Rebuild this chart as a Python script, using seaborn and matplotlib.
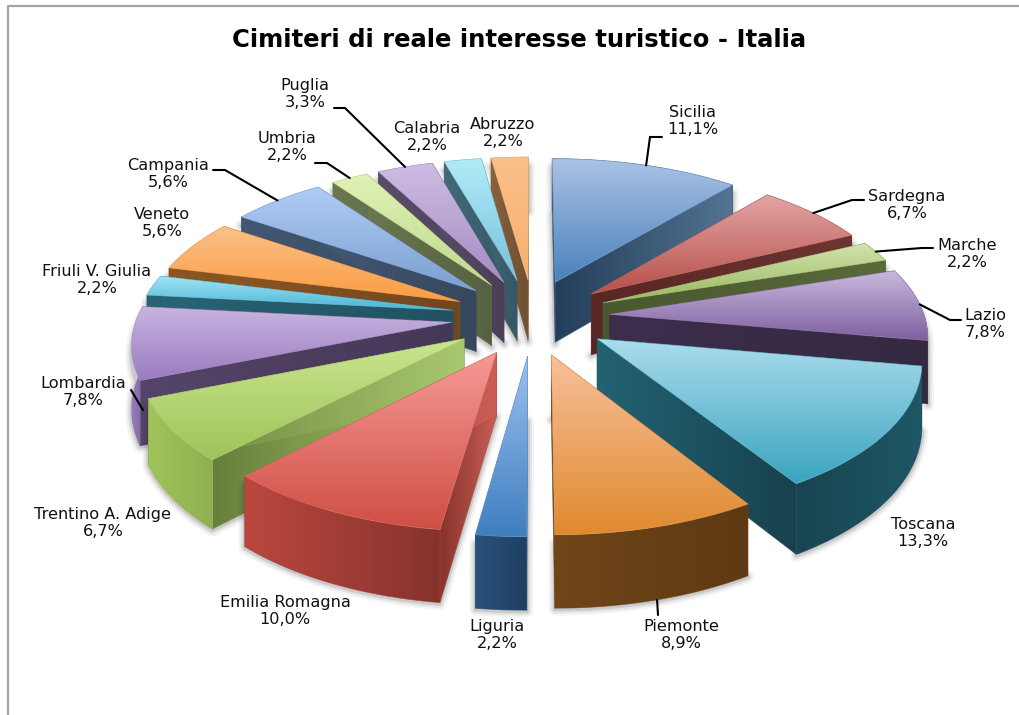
import numpy as np
import matplotlib
matplotlib.use("Agg")
import matplotlib.pyplot as plt
from matplotlib.patches import Polygon
from matplotlib.colors import to_rgb
import seaborn as sns

# ---------- data ----------
regions = ["Sicilia", "Sardegna", "Marche", "Lazio", "Toscana", "Piemonte", "Liguria",
           "Emilia Romagna", "Trentino A. Adige", "Lombardia", "Friuli V. Giulia", "Veneto",
           "Campania", "Umbria", "Puglia", "Calabria", "Abruzzo"]
shares = [11.1, 6.7, 2.2, 7.8, 13.3, 8.9, 2.2, 10.0, 6.7, 7.8, 2.2, 5.6, 5.6, 2.2, 3.3, 2.2, 2.2]
title = "Cimiteri di reale interesse turistico - Italia"

# ---------- style ----------
top_light = ["#aac2e6", "#e2a4a4", "#d2e3ac", "#c8b8dc", "#aadcec", "#f8c09a", "#9cc0f0", "#f59a95", "#c9e58f",
             "#c8b4e0", "#a5e5f5", "#fac088", "#b0ccf5", "#e0f2b4", "#cdbce5", "#b0ecf8", "#fac08a"]
top_dark = ["#4a82bb", "#b8504a", "#98b860", "#7e5fa0", "#3aa4c0", "#e08a2f", "#3f7fbf", "#cf4f45", "#a0c45a",
            "#9a7cc0", "#4ab5d5", "#fb9c40", "#7a9fd0", "#c0d890", "#a58cc0", "#78c0dc", "#f8b070"]
label_xy = [(693, 121), (907, 205), (967, 254), (985, 324), (923, 533), (681, 635), (497, 635), (285, 611),
            (103, 523), (83, 392), (97, 280), (162, 223), (168, 174), (287, 147), (305, 94), (427, 137), (503, 133)]
leader_tail = {"Sicilia": [(650, 137), (662, 137)], "Sardegna": [(852, 200), (864, 200)],
               "Marche": [(922, 248), (933, 248)], "Lazio": [(950, 320), (961, 320)],
               "Piemonte": [(658, 615)], "Lombardia": [(131, 390)],
               "Campania": [(225, 170), (213, 170)], "Umbria": [(327, 163), (315, 163)],
               "Puglia": [(345, 108), (334, 108)]}
leader_head = {"Lombardia": (143, 410)}
CX, CY, KX, KY, PERSP, EXPLODE, HEIGHT, LEFT_SHIFT = 528, 317, 315, 147, 0.125, 0.26, 62, 5.5

sns.set_theme(style="white")
plt.rcParams["font.family"] = ["DejaVu Sans"]
fig = plt.figure(figsize=(10.2, 7.15), dpi=100, facecolor="white")
ax = fig.add_axes([0, 0, 1, 1])
ax.set_xlim(0, 1020)
ax.set_ylim(715, 0)
ax.axis("off")


def project(x, y, down=0.0, shift=0.0):
    s = 1 / (1 + PERSP * y)
    return CX + shift + KX * x * s, CY - KY * y * s + down * s


def scale(col, f, grey=0.0):
    c = np.array(to_rgb(col)) * f
    return tuple(np.clip(c * (1 - grey) + grey * c.mean() * 1.1, 0, 1))


def face(pts, left, right, z, vertical=False):
    pts = np.asarray(pts)
    x0, y0 = pts.min(axis=0)
    x1, y1 = pts.max(axis=0)
    ramp = np.array(sns.blend_palette([left, right], 64))
    img = ramp[:, None, :] if vertical else ramp[None, :, :]
    im = ax.imshow(img, extent=(x0, x1, y1, y0), origin="upper", aspect="auto",
                   interpolation="bilinear", zorder=z)
    patch = Polygon(pts, closed=True, transform=ax.transData, facecolor="none", edgecolor="none")
    ax.add_patch(patch)
    im.set_clip_path(patch)
    mid = tuple((np.array(to_rgb(left)) + np.array(to_rgb(right))) / 2)
    ax.add_patch(Polygon(pts, closed=True, facecolor="none", edgecolor=mid, lw=0.5, alpha=0.7, zorder=z))


def outer_f(theta):
    return np.interp(theta, [90, 148, 180, 188, 224, 248, 270], [0.55, 0.42, 0.5, 0.65, 0.9, 1.0, 0.8])


def radial_f(mid):
    if mid <= 90:
        return 0.48, float(np.interp(mid, [20, 52, 66, 86], [0.85, 0.62, 0.6, 0.42])), (0.35 if mid < 30 else 0.1)
    if mid <= 180:
        return 0.6, 0.4, 0.0
    if mid <= 250:
        return 1.05, 0.65, 0.2
    return 0.45, 0.55, 0.0


edges = np.cumsum([0] + shares) / sum(shares) * 360
slices = []
for i, name in enumerate(regions):
    a0, a1 = edges[i], edges[i + 1]
    mid = (a0 + a1) / 2
    ox, oy = EXPLODE * np.sin(np.radians(mid)), EXPLODE * np.cos(np.radians(mid))
    slices.append((i, a0, a1, mid, ox, oy, LEFT_SHIFT if mid > 180 else 0.0))

z = 3.0
for i, a0, a1, mid, ox, oy, sh in sorted(slices, key=lambda t: -t[5]):
    th = np.radians(np.linspace(a0, a1, 60))
    ax_x, ax_y = ox + np.sin(th), oy + np.cos(th)
    top_arc = np.column_stack(project(ax_x, ax_y, 0, sh))
    bot_arc = np.column_stack(project(ax_x, ax_y, HEIGHT, sh))
    apex_t = np.array(project(ox, oy, 0, sh))
    apex_b = np.array(project(ox, oy, HEIGHT, sh))
    base = top_dark[i]
    # soft shadow below and around the foot of the slice
    sil = np.vstack([apex_b, bot_arc, top_arc[::-1] + [0, 8]])
    for lw, al in ((9, 0.05), (6, 0.08), (3, 0.14)):
        ax.add_patch(Polygon(sil + [0, 1], closed=True, fc="none", ec="#303030", lw=lw, alpha=al, zorder=z,
                             joinstyle="round"))
    z += 0.01
    fi, fo, grey = radial_f(mid)

    def radial(z0):
        zz = z0
        for arc_t, arc_b in ((top_arc[0], bot_arc[0]), (top_arc[-1], bot_arc[-1])):
            pts = [apex_t, arc_t, arc_b, apex_b]
            if 180 < mid <= 250:
                ci, co = scale(base, fi, grey), scale(base, fo)
            else:
                ci, co = scale(base, fi), scale(base, fo, grey)
            l, r = (ci, co) if arc_t[0] > apex_t[0] else (co, ci)
            face(pts, l, r, zz)
            zz += 0.01
        return zz

    def outer(z0):
        pts = np.vstack([top_arc, bot_arc[::-1]])
        if top_arc[0, 0] > top_arc[-1, 0]:
            l, r = scale(base, outer_f(a1)), scale(base, outer_f(a0))
        else:
            l, r = scale(base, outer_f(a0)), scale(base, outer_f(a1))
        face(pts, l, r, z0)
        return z0 + 0.01

    if oy > 0:
        z = radial(outer(z))
    else:
        z = outer(radial(z))
    face(np.vstack([apex_t, top_arc]), top_light[i], base, z, vertical=True)
    z += 0.01

# labels and leaders
for (i, a0, a1, mid, ox, oy, sh), (lx, ly) in zip(slices, label_xy):
    name = regions[i]
    pct = f"{shares[i]:.1f}".replace(".", ",") + "%"
    ax.text(lx, ly, f"{name}\n{pct}", ha="center", va="center", fontsize=11.6, color="#111111",
            linespacing=1.13, zorder=100)
    if name in leader_tail:
        t = np.radians(mid)
        down = HEIGHT if 120 < mid < 300 else 0
        start = leader_head.get(name, project(ox + np.sin(t), oy + np.cos(t), down, sh))
        line = [start] + leader_tail[name]
        ax.plot(*zip(*line), color="black", lw=1.5, zorder=101, solid_joinstyle="miter")

ax.plot([1020, 8, 8], [6, 6, 715], color="#a3a3a3", lw=1.6, zorder=2)
ax.text(519, 40, title, ha="center", va="center", fontsize=17.5, fontweight="bold", color="black", zorder=100)
ax.set_xlim(0, 1020)
ax.set_ylim(715, 0)
fig.savefig("out.png", dpi=100)
